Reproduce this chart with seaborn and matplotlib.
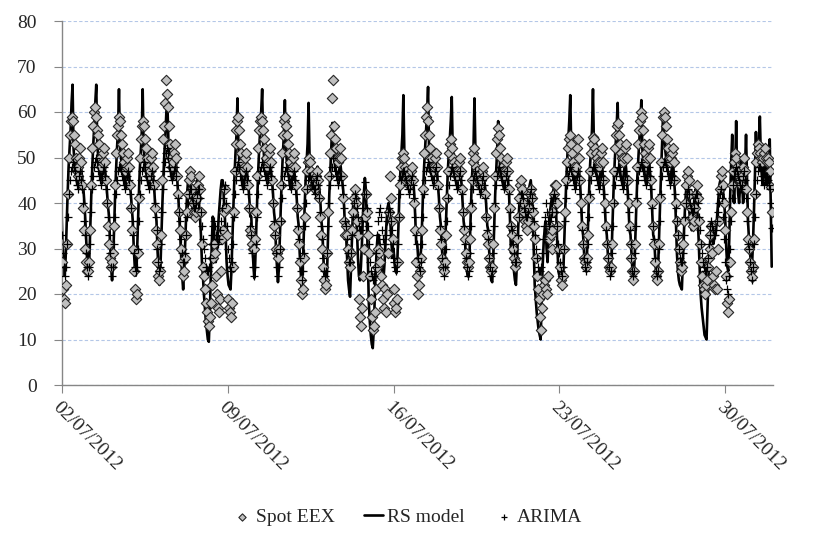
import pandas as pd
import matplotlib
matplotlib.use("Agg")
import matplotlib.pyplot as plt
import matplotlib.dates as mdates
import seaborn as sns

# Hourly prices from 02/07/2012 00:00, one row per day (EUR/MWh)
spot_eex = [
    27, 21, 19, 18, 22, 31, 42, 50, 55, 58, 59, 58, 55, 53, 50, 47, 46, 48, 50, 52, 49, 44, 39, 34,
    30, 27, 25, 25, 27, 34, 44, 52, 57, 60, 61, 59, 56, 55, 53, 50, 48, 49, 51, 52, 49, 45, 40, 35,
    31, 28, 26, 27, 29, 35, 44, 51, 55, 57, 59, 58, 55, 53, 51, 49, 47, 48, 50, 51, 48, 44, 39, 34,
    30, 25, 21, 19, 20, 29, 41, 50, 54, 57, 58, 57, 54, 52, 50, 48, 46, 47, 50, 51, 48, 44, 39, 34,
    31, 27, 24, 23, 25, 33, 45, 54, 57, 62, 67, 64, 61, 57, 53, 50, 48, 49, 51, 53, 50, 46, 42, 38,
    34, 30, 27, 24, 25, 28, 33, 38, 42, 45, 47, 46, 43, 40, 38, 37, 38, 41, 44, 46, 43, 38, 31, 26,
    24, 21, 18, 16, 14, 13, 15, 18, 22, 28, 31, 29, 24, 20, 17, 16, 19, 25, 32, 34, 38, 43, 39, 33,
    19, 17, 16, 15, 18, 26, 38, 47, 53, 56, 58, 59, 56, 53, 51, 49, 47, 48, 50, 51, 48, 44, 39, 34,
    33, 31, 30, 30, 32, 38, 46, 52, 56, 58, 59, 58, 56, 54, 52, 50, 48, 49, 51, 52, 49, 45, 40, 35,
    33, 30, 29, 28, 30, 36, 44, 51, 55, 58, 59, 57, 55, 53, 51, 49, 47, 48, 50, 51, 48, 44, 39, 34,
    31, 27, 23, 20, 21, 28, 37, 43, 47, 49, 50, 49, 47, 46, 45, 44, 43, 44, 46, 47, 45, 41, 37, 33,
    30, 26, 23, 21, 22, 29, 38, 46, 51, 55, 63, 67, 57, 54, 52, 50, 49, 50, 52, 50, 46, 41, 36, 33,
    35, 33, 30, 27, 26, 29, 34, 38, 41, 43, 40, 36, 33, 19, 15, 13, 17, 24, 30, 37, 42, 38, 33, 29,
    24, 19, 15, 12, 13, 16, 21, 26, 30, 29, 27, 24, 22, 19, 17, 21, 16, 20, 29, 38, 46, 41, 36, 32,
    21, 18, 16, 17, 19, 27, 37, 44, 48, 50, 51, 50, 48, 47, 46, 45, 44, 45, 47, 48, 45, 40, 34, 27,
    24, 20, 22, 25, 28, 34, 43, 51, 55, 59, 61, 58, 55, 52, 50, 48, 47, 48, 50, 51, 48, 44, 39, 34,
    31, 28, 26, 25, 27, 33, 41, 47, 51, 53, 54, 52, 50, 49, 48, 47, 46, 47, 49, 50, 47, 43, 38, 34,
    32, 29, 27, 26, 27, 32, 39, 45, 49, 51, 52, 50, 48, 47, 46, 45, 44, 45, 47, 48, 46, 42, 37, 33,
    31, 28, 26, 25, 26, 31, 39, 46, 51, 54, 56.5, 55, 52, 50, 48, 47, 46, 47, 49, 50, 47, 43, 39, 35,
    33, 30, 28, 26, 27, 32, 37, 41, 44, 45, 43, 40, 38, 36, 35, 34, 36, 39, 42, 43, 41, 38, 35, 32,
    28, 24, 21, 19, 15, 12, 17, 20, 22, 23, 21, 20, 24, 32, 35, 33, 30, 34, 38, 42, 44, 44, 40, 35,
    30, 26, 23, 22, 24, 30, 38, 45, 49, 52, 54, 55, 53, 51, 49, 48, 47, 48, 52, 54, 50, 45, 40, 35,
    31, 28, 27, 26, 28, 33, 41, 47, 51, 53, 54.5, 54, 52, 51, 50, 49, 48, 49, 51, 52, 49, 45, 40, 35,
    31, 28, 26, 25, 26, 31, 40, 47, 52, 55, 57, 57.6, 55, 53, 51, 50, 49, 50, 52, 53, 50, 45, 40, 35,
    31, 28, 25, 23, 25, 31, 40, 48, 53, 56, 58, 60, 59, 56, 53, 51, 49, 50, 52, 53, 50, 45, 40, 35,
    31, 27, 24, 23, 25, 31, 41, 49, 55, 59, 60, 59, 57, 54, 52, 50, 49, 50, 51, 52, 49, 45, 40, 36,
    33, 30, 27, 25, 26, 31, 36, 40, 44, 46, 47, 45, 42, 39, 37, 35, 36, 39, 42, 44, 41, 36, 31, 27,
    24, 22, 21, 20, 22, 23, 26, 28, 30, 33, 35, 29, 24, 22, 21, 25, 21, 30, 36, 43, 46, 47, 44, 40,
    34, 24, 18, 16, 19, 27, 38, 44, 47, 49, 51, 50, 48, 47, 46, 45, 44, 46, 48, 50, 47, 43, 38, 32,
    30, 27, 25, 23.7, 26, 32, 42, 49, 51, 53, 52, 51, 50, 49, 50, 51, 52, 50, 49, 50, 49, 47, 43.5, 38,
]

rs_model = [
    37, 30, 26, 24, 28, 35, 42, 48, 52, 56, 62, 66, 52, 49, 47, 45, 44, 46, 48, 50, 47, 45, 43, 40,
    36, 31, 27, 24, 28, 35, 42, 48, 53, 57, 62, 66, 53, 50, 48, 46, 45, 47, 49, 50, 47, 45, 42, 39,
    37, 31, 26, 23, 27, 34, 41, 47, 52, 56, 65, 53, 50, 48, 47, 45, 44, 46, 48, 49, 47, 44, 42, 39,
    36, 30, 26, 24, 27, 34, 41, 47, 51, 55, 65, 52, 49, 47, 46, 45, 44, 46, 48, 50, 47, 45, 42, 38,
    36, 30, 25, 22, 26, 33, 40, 46, 51, 55, 60, 62, 54, 50, 48, 46, 45, 47, 49, 51, 48, 45, 42, 37,
    33, 28, 24, 21, 25, 31, 37, 42, 45, 47, 44, 42, 40, 38, 37, 39, 42, 45, 43, 40, 37, 33, 27, 24,
    20, 17, 14, 12, 10, 9.5, 16, 24, 31, 37, 35, 30, 27, 29, 33, 37, 40, 43, 45, 45, 42, 38, 33, 27,
    24, 22, 21.5, 21, 26, 33, 40, 46, 51, 55, 63, 52, 49, 47, 46, 44, 43, 45, 47, 49, 46, 44, 41, 37,
    37, 31, 27, 23.5, 27, 34, 41, 47, 52, 56, 60, 65, 53, 50, 48, 46, 45, 47, 49, 50, 47, 45, 42, 38,
    36, 30, 26, 22.6, 26, 33, 40, 46, 51, 55, 62.6, 52, 49, 47, 46, 44, 43, 45, 47, 49, 46, 44, 41, 37,
    35, 29, 25, 21.5, 25, 32, 39, 45, 49, 53, 62, 50, 47, 45, 44, 43, 42, 44, 46, 48, 45, 43, 40, 36,
    34, 28, 24, 21, 20.5, 27, 35, 42, 47, 52, 57.6, 53, 50, 48, 47, 46, 45, 47, 49, 47, 45, 43, 39, 34,
    33, 28, 23, 21, 19.4, 26, 33, 39, 42, 43.5, 40, 34, 28, 24, 23, 26, 31, 37, 42, 45.5, 43, 36, 28, 18,
    14, 11, 9, 8.1, 12, 19, 25, 30, 33, 33, 31, 28, 26, 24, 23.8, 27, 32, 36, 39, 40, 38, 35, 31, 28,
    30, 27, 25, 24.6, 28, 35, 42, 47, 51, 55, 63.7, 51, 48, 46, 45, 44, 43, 45, 47, 48, 45, 42, 37, 31,
    31, 28, 27, 27.5, 30, 36, 43, 48, 52, 56, 60, 65.5, 52, 49, 47, 46, 45, 47, 49, 50, 47, 44, 41, 37,
    35, 30, 27, 24.6, 28, 35, 41, 47, 51, 54, 58, 63.3, 51, 48, 46, 45, 44, 46, 48, 49, 46, 44, 40, 36,
    34, 29, 26, 24, 23.8, 29, 36, 43, 48, 52, 63, 51, 48, 46, 45, 44, 43, 45, 47, 48, 45, 43, 39, 35,
    34, 29, 25, 23, 22.6, 28, 35, 42, 47, 52, 58, 51, 48, 46, 45, 44, 43, 45, 47, 48, 45, 42, 36, 29,
    33, 28, 25, 23, 22, 27, 33, 38, 42, 44, 42, 39, 37, 36, 35, 37, 40, 43, 44, 45, 42, 37, 30, 22,
    19, 16, 14, 12, 11, 10, 18, 26, 31, 34, 36, 30, 27, 32, 37, 39, 40.6, 42, 43, 43.5, 41, 36, 30, 25,
    24, 22, 21.5, 21, 25, 32, 39, 45, 50, 54, 58, 63.7, 52, 49, 47, 45, 44, 46, 48, 50, 47, 44, 40, 35,
    33, 29, 27, 26, 29, 35, 42, 48, 52, 56, 65, 52, 49, 47, 46, 45, 44, 46, 48, 49, 46, 43, 39, 35,
    33, 29, 26, 24.5, 24, 30, 37, 44, 49, 53, 57, 62, 51, 48, 46, 45, 44, 46, 48, 49, 46, 43, 39, 34,
    33, 29, 25, 23, 27, 33, 40, 46, 50, 54, 58, 62.6, 52, 49, 47, 45, 44, 46, 48, 49, 46, 43, 38, 33,
    32, 28, 24, 22.4, 26, 33, 40, 47, 53, 59.7, 55, 52, 50, 48, 47, 46, 45, 46, 48, 49, 46, 42, 36, 29,
    25, 23, 22, 21.5, 21, 27, 33, 38, 42, 44, 43, 40, 37, 35, 34, 36, 39, 42, 43, 41, 37, 32, 26, 20,
    17, 15, 13, 11, 10.5, 10, 17, 24, 29, 32.5, 33, 32, 31, 32.5, 33, 35, 38, 41, 44, 45, 46.6, 45, 42, 40,
    36, 30, 26, 25, 32, 42, 49, 55, 44, 40, 47, 58, 46, 42, 40, 44, 50, 45, 40, 42, 48, 55, 45, 36,
    32, 29, 27, 26, 31, 38, 46, 55.6, 48, 50, 54, 59, 50, 46, 44, 47, 50, 46, 44, 48, 50, 54, 40, 26,
]

arima = [
    33, 29, 26, 24, 26, 31, 37, 42, 45, 47, 48, 49, 48, 47, 45, 44, 43, 44, 46, 47, 45, 43, 40, 36,
    33, 29, 26, 24, 26, 31, 38, 43, 46, 48, 49, 50, 49, 47, 46, 45, 44, 45, 47, 48, 46, 43, 40, 37,
    33, 29, 26, 24, 26, 31, 37, 42, 45, 47, 48, 48, 47, 46, 45, 44, 43, 44, 46, 47, 45, 42, 39, 36,
    33, 29, 26, 25, 26, 30, 36, 42, 45, 47, 48, 49, 48, 46, 45, 44, 43, 44, 46, 47, 45, 43, 40, 37,
    34, 30, 27, 25, 26, 31, 38, 43, 47, 49, 51, 52, 50, 48, 47, 46, 45, 46, 47, 48, 46, 44, 41, 38,
    36, 32, 29, 27, 27, 29, 33, 37, 40, 42, 43, 43, 41, 40, 39, 39, 40, 42, 43, 43, 41, 38, 35, 32,
    30, 28, 26, 25, 25, 26, 28, 31, 33, 35, 36, 35, 33, 32, 31, 32, 34, 36, 39, 41, 43, 44, 40, 35,
    30, 28, 26, 25, 27, 31, 37, 42, 45, 47, 48, 49, 48, 46, 45, 44, 43, 44, 46, 47, 45, 42, 39, 35,
    33, 29, 26, 24, 26, 31, 37, 42, 45, 47, 48, 49, 48, 47, 46, 45, 44, 45, 47, 48, 46, 43, 40, 36,
    33, 29, 26, 24, 26, 30, 36, 41, 44, 46, 47, 48, 47, 46, 45, 44, 43, 44, 46, 47, 45, 42, 39, 35,
    32, 28, 25, 23, 25, 29, 35, 40, 43, 45, 46, 46, 45, 44, 44, 43, 42, 43, 45, 46, 44, 41, 38, 35,
    32, 28, 25, 24, 25, 29, 35, 40, 44, 46, 48, 50, 48, 47, 46, 45, 44, 45, 46, 46, 44, 42, 39, 36,
    35, 32, 29, 27, 27, 29, 33, 37, 40, 42, 41, 39, 37, 35, 34, 34, 36, 39, 42, 44.6, 42, 39, 35, 31,
    27, 25, 24, 23, 24, 26, 29, 33, 36, 38, 39, 37, 34, 32, 31, 31, 33, 36, 38, 39, 38, 36, 34, 31,
    28, 27, 26, 25, 27, 31, 37, 42, 45, 46, 47, 47, 46, 45, 44, 43, 42, 43, 45, 46, 44, 41, 37, 33,
    31, 28, 26, 25, 27, 31, 37, 42, 45, 47, 48, 49, 48, 47, 46, 45, 44, 45, 47, 48, 46, 43, 39, 35,
    32, 28, 26, 24, 26, 30, 36, 41, 44, 46, 47, 48, 47, 46, 45, 44, 43, 44, 46, 47, 45, 42, 38, 35,
    31, 28, 26, 24, 25, 29, 35, 40, 43, 45, 46, 47, 46, 45, 44, 43, 42, 43, 45, 46, 44, 41, 37, 34,
    32, 28, 26, 24, 25, 29, 35, 40, 44, 46, 47, 48, 47, 46, 45, 44, 43, 44, 46, 47, 45, 42, 38, 35,
    34, 31, 29, 27, 27, 29, 33, 37, 40, 42, 42, 41, 39, 38, 37, 37, 38, 40, 42, 43, 41, 39, 36, 33,
    30, 28, 26, 25, 25, 26, 29, 32, 35, 37, 40, 38, 36, 35, 36, 37, 38, 40, 41, 42, 41, 38, 35, 31,
    29, 27, 25, 24, 26, 30, 36, 41, 44, 46, 47, 48, 47, 46, 45, 44, 43, 44, 46, 47, 45, 42, 38, 34,
    31, 28, 26, 25, 27, 31, 37, 42, 45, 47, 48, 48, 47, 46, 45, 44, 43, 44, 46, 47, 45, 42, 38, 34,
    31, 28, 26, 24, 25, 29, 35, 40, 44, 46, 47, 48, 47, 46, 45, 44, 43, 44, 46, 47, 45, 42, 38, 34,
    31, 28, 25, 24, 25, 29, 35, 41, 45, 47, 48, 49, 48, 47, 46, 45, 44, 45, 47, 48, 46, 43, 39, 35,
    32, 28, 25, 24, 25, 30, 36, 42, 46, 48, 49, 49, 48, 47, 46, 45, 44, 45, 46, 47, 45, 42, 39, 36,
    33, 30, 28, 27, 27, 29, 33, 37, 40, 42, 43, 42, 40, 39, 38, 38, 39, 41, 42, 42, 40, 37, 34, 31,
    29, 27, 26, 25, 25, 26, 28, 31, 33, 35, 36, 35, 34, 33, 33, 34, 36, 38, 40, 42, 43, 41, 37, 32,
    27, 23, 21, 20, 24, 30, 36, 41, 44, 46, 47, 48, 47, 46, 45, 44, 43, 44, 46, 47, 45, 41, 36, 31,
    30, 27, 25, 23, 26, 31, 37, 42, 45, 47, 48, 48, 47, 46, 45, 44, 45, 46, 46, 45, 44, 43, 40, 34.5,
]

series_labels = ["Spot EEX", "RS model", "ARIMA"]
tick_dates = ["2012-07-02", "2012-07-09", "2012-07-16", "2012-07-23", "2012-07-30"]
y_ticks = [0, 10, 20, 30, 40, 50, 60, 70, 80]

sns.set_style("white")
plt.rcParams["font.family"] = ["Liberation Serif", "DejaVu Serif"]

df = pd.DataFrame({
    "time": pd.date_range("2012-07-02", periods=len(spot_eex), freq="h"),
    "spot": spot_eex,
    "rs": rs_model,
    "arima": arima,
})

fig = plt.figure(figsize=(8.15, 5.42), dpi=100)
ax = fig.add_axes([61.7 / 815, 1 - 385 / 542, 711 / 815, 364 / 542])

sns.lineplot(data=df, x="time", y="rs", color="black", linewidth=1.9,
             label=series_labels[1], ax=ax, zorder=2)
sns.scatterplot(data=df, x="time", y="spot", marker="D", s=28, color="#bfbfbf",
                edgecolor="#262626", linewidth=0.8, label=series_labels[0], ax=ax, zorder=3)
sns.scatterplot(data=df, x="time", y="arima", marker="+", s=40, color="black",
                linewidth=0.9, label=series_labels[2], ax=ax, zorder=4)

ax.set_xlim(pd.Timestamp("2012-07-02"), pd.Timestamp("2012-08-01"))
ax.set_ylim(0, 80)
ax.set_yticks(y_ticks)
ax.set_xticks(pd.to_datetime(tick_dates))
ax.xaxis.set_major_formatter(mdates.DateFormatter("%d/%m/%Y"))
ax.set_xlabel("")
ax.set_ylabel("")

ax.yaxis.grid(True, color="#b4c7e7", linestyle=(0, (3, 2)), linewidth=0.8)
ax.xaxis.grid(False)
sns.despine(ax=ax)
for side in ["left", "bottom"]:
    ax.spines[side].set_color("#868686")
    ax.spines[side].set_linewidth(1.0)

ax.tick_params(axis="y", length=6, width=0.8, color="#868686", pad=12, labelsize=14, direction="out", left=True)
ax.tick_params(axis="x", length=6, width=0.8, color="#868686", pad=4, labelsize=14, direction="out", bottom=True)
for lab in ax.get_xticklabels():
    lab.set_rotation(-45)
    lab.set_ha("left")
    lab.set_va("top")
    lab.set_rotation_mode("anchor")

handles, labels = ax.get_legend_handles_labels()
ax.get_legend().remove()
order = [labels.index(name) for name in series_labels]
fig.legend([handles[i] for i in order], series_labels, loc="center",
           bbox_to_anchor=(0.5, 0.046), ncol=3, frameon=False, fontsize=14,
           handlelength=1.0, handletextpad=0.2, columnspacing=1.5, markerscale=0.7)

fig.savefig("out.png", dpi=100)
